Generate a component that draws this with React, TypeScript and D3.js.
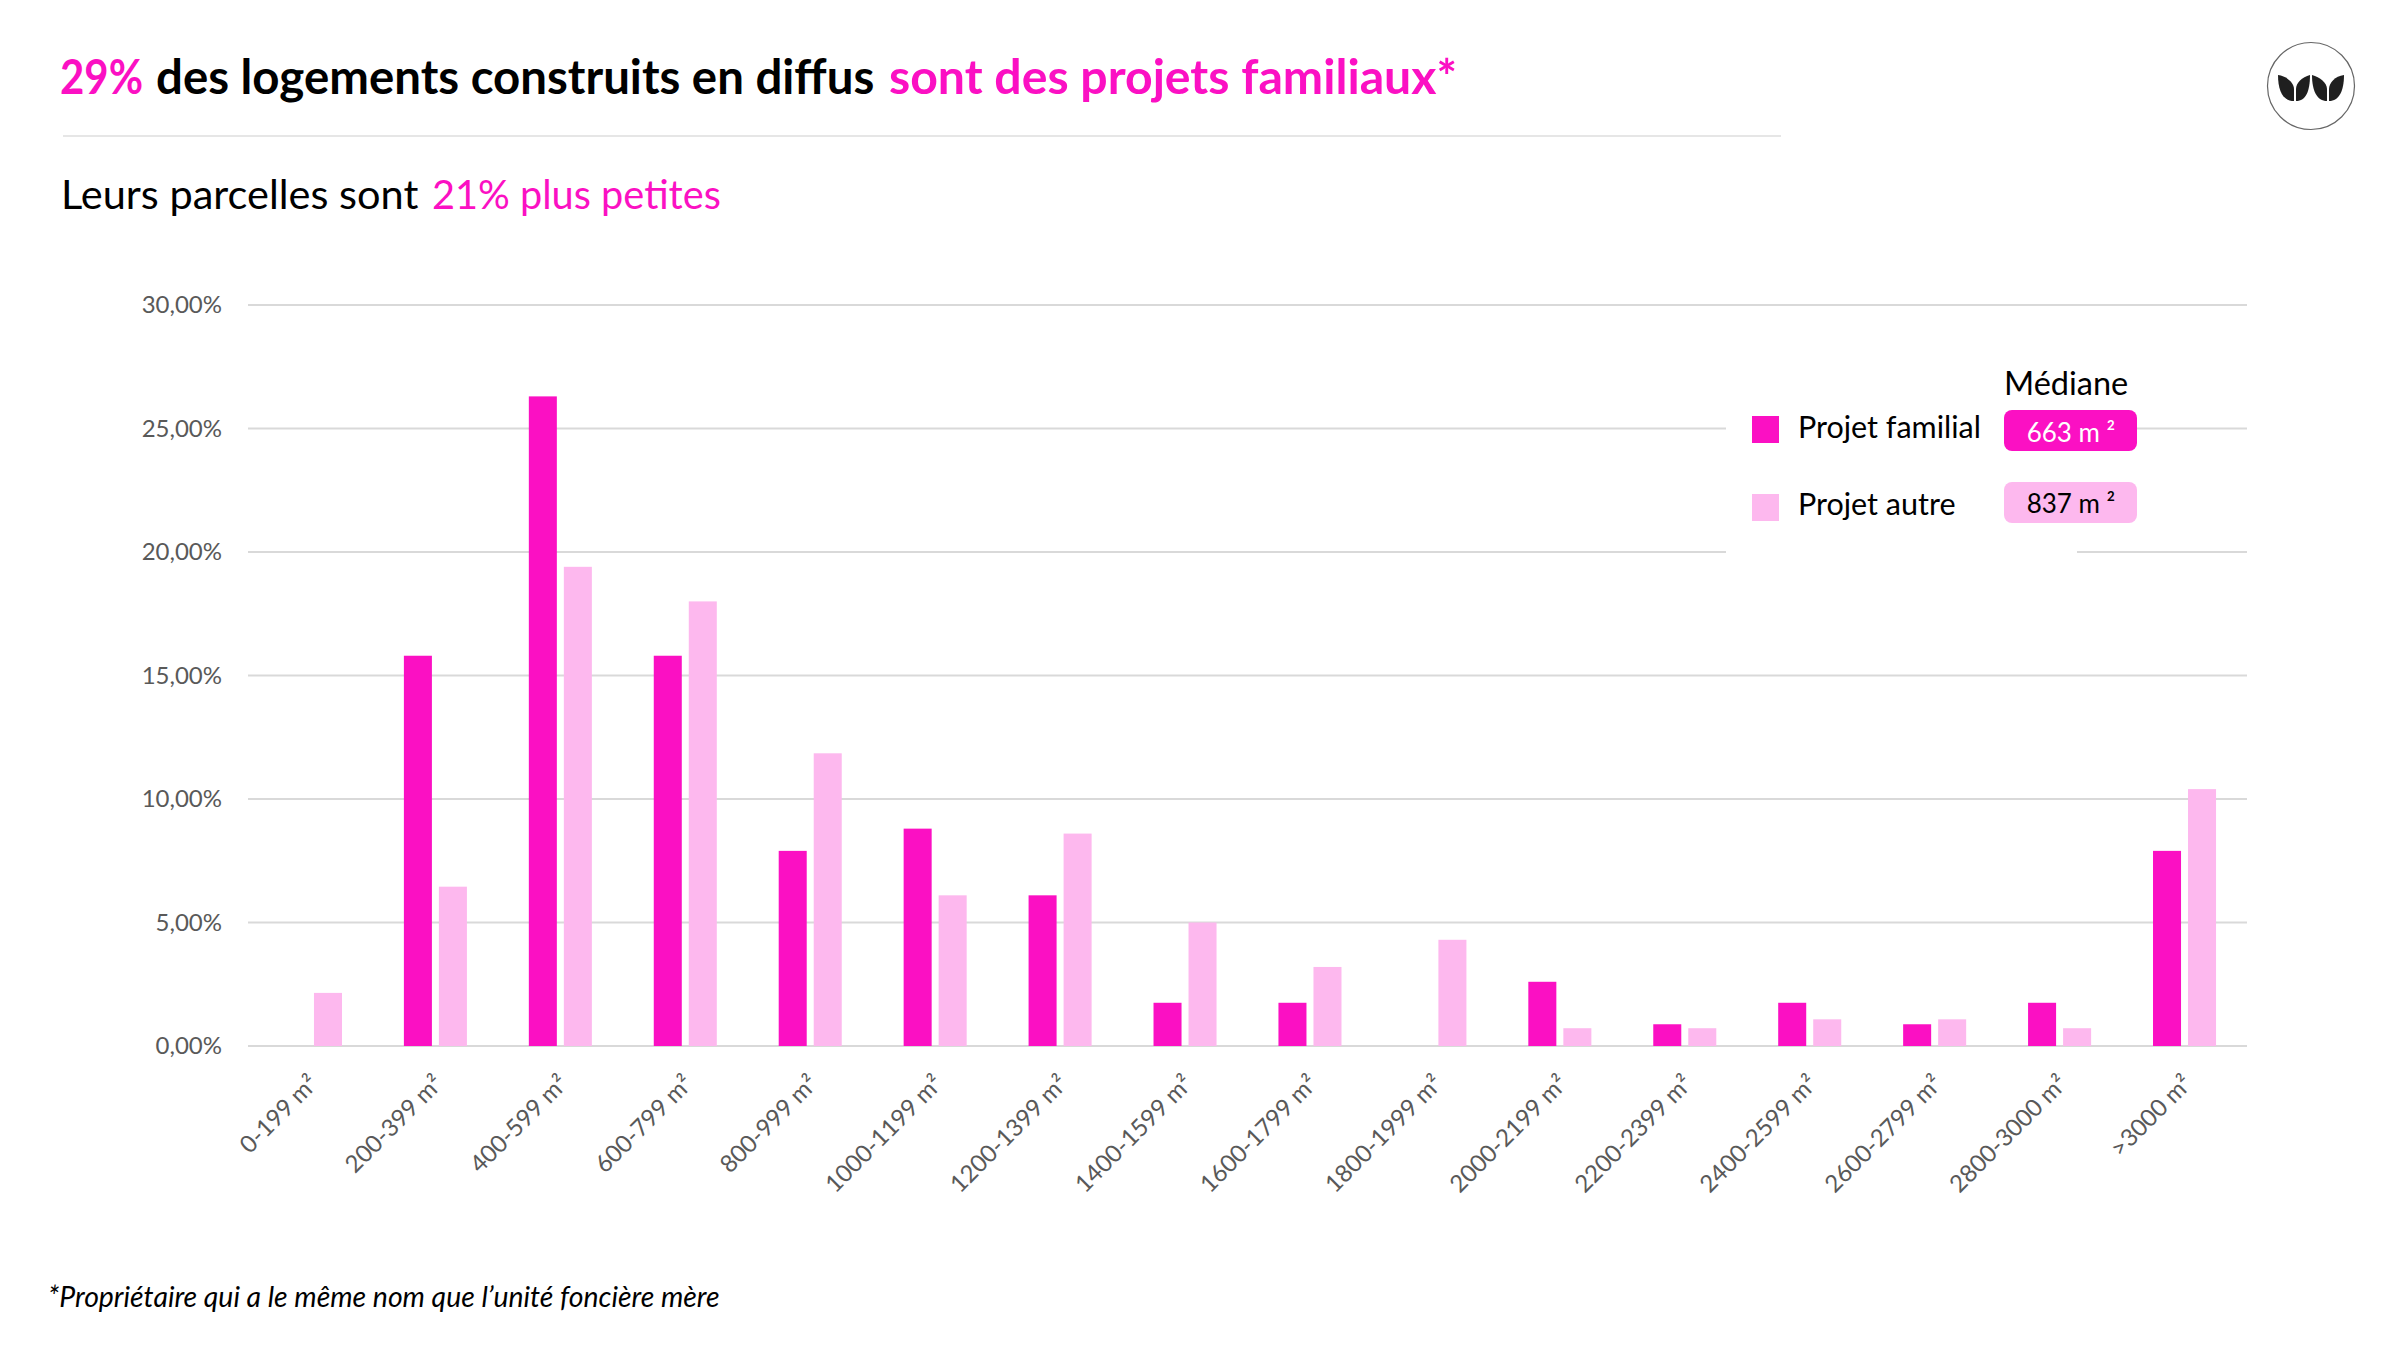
import React, { useEffect, useRef } from 'react';
import * as d3 from 'd3';

const categories = ['0-199 m²', '200-399 m²', '400-599 m²', '600-799 m²', '800-999 m²', '1000-1199 m²', '1200-1399 m²', '1400-1599 m²', '1600-1799 m²', '1800-1999 m²', '2000-2199 m²', '2200-2399 m²', '2400-2599 m²', '2600-2799 m²', '2800-3000 m²', '>3000 m²'];
const familial = [0, 15.8, 26.3, 15.8, 7.9, 8.8, 6.1, 1.75, 1.75, 0, 2.6, 0.88, 1.75, 0.88, 1.75, 7.9];
const autre = [2.15, 6.45, 19.4, 18.0, 11.85, 6.1, 8.6, 5.0, 3.2, 4.3, 0.72, 0.72, 1.08, 1.08, 0.72, 10.4];
const seriesNames = ['Projet familial', 'Projet autre'];
const medians = ['663 m ²', '837 m ²'];
const yTicks = [0, 5, 10, 15, 20, 25, 30];

const PINK = '#fb10c3';
const LIGHT = '#fdb8ee';
const FONT = 'Lato, sans-serif';

const App: React.FC = () => {
  const ref = useRef<SVGSVGElement | null>(null);

  useEffect(() => {
    const svg = d3.select(ref.current);
    svg.selectAll('*').remove();

    const x = d3.scaleBand().domain(categories).range([248, 2247]);
    const x1 = d3.scaleBand().domain(seriesNames).range([0, x.bandwidth()]).paddingInner(0.2).paddingOuter(0.884);
    const y = d3.scaleLinear().domain([0, 30]).range([1046, 305]);

    // title
    const title = svg.append('g').attr('font-family', FONT).attr('font-weight', 700).attr('font-size', 47.4);
    title.append('text').attr('x', 60).attr('y', 94).attr('fill', PINK)
      .attr('textLength', 83).attr('lengthAdjust', 'spacingAndGlyphs').text('29%');
    title.append('text').attr('x', 156).attr('y', 94).attr('fill', '#000').text('des logements construits en diffus');
    title.append('text').attr('x', 889).attr('y', 94).attr('fill', PINK).attr('font-size', 48.2).text('sont des projets familiaux*');

    svg.append('line').attr('x1', 63).attr('x2', 1781).attr('y1', 136).attr('y2', 136)
      .attr('stroke', '#e6e6e6').attr('stroke-width', 2);

    const sub = svg.append('g').attr('font-family', FONT);
    sub.append('text').attr('x', 61).attr('y', 209).attr('font-size', 41.5).attr('fill', '#000').text('Leurs parcelles sont');
    sub.append('text').attr('x', 432).attr('y', 209).attr('font-size', 39.7).attr('fill', PINK).text('21% plus petites');

    // y axis and grid
    const yAxis = svg.append('g').attr('transform', 'translate(248,0)')
      .call(d3.axisLeft(y).tickValues(yTicks).tickSize(0).tickPadding(26)
        .tickFormat(d => `${(d as number).toFixed(2).replace('.', ',')}%`));
    yAxis.select('.domain').remove();
    yAxis.selectAll('text').attr('font-family', FONT).attr('font-size', 24).attr('fill', '#595959');

    svg.append('g').selectAll('line').data(yTicks).enter().append('line')
      .attr('x1', 248).attr('x2', 2247)
      .attr('y1', d => y(d)).attr('y2', d => y(d))
      .attr('stroke', '#d9d9d9').attr('stroke-width', 2);

    // bars
    [familial, autre].forEach((values, s) => {
      svg.append('g').selectAll('rect').data(values).enter().append('rect')
        .attr('x', (_, i) => (x(categories[i]) || 0) + (x1(seriesNames[s]) || 0))
        .attr('y', d => y(d))
        .attr('width', x1.bandwidth())
        .attr('height', d => y(0) - y(d))
        .attr('fill', s === 0 ? PINK : LIGHT);
    });

    // x labels
    const xAxis = svg.append('g').attr('transform', 'translate(0,1046)')
      .call(d3.axisBottom(x).tickSize(0).tickPadding(0));
    xAxis.select('.domain').remove();
    xAxis.selectAll('text')
      .attr('font-family', FONT).attr('font-size', 24).attr('fill', '#595959')
      .attr('text-anchor', 'end')
      .attr('dy', 0).attr('y', 0)
      .attr('transform', 'translate(9,39) rotate(-45)');

    // legend
    svg.append('rect').attr('x', 1726).attr('y', 400).attr('width', 351).attr('height', 160).attr('fill', '#fff');

    const leg = svg.append('g').attr('font-family', FONT);
    leg.append('text').attr('x', 2004).attr('y', 395).attr('font-size', 32.5).attr('fill', '#000').text('Médiane');
    seriesNames.forEach((name, i) => {
      leg.append('rect').attr('x', 1752).attr('y', [416, 494][i]).attr('width', 27).attr('height', 27)
        .attr('fill', i === 0 ? PINK : LIGHT);
      leg.append('text').attr('x', 1798).attr('y', [438, 515][i]).attr('font-size', 30.5).attr('fill', '#000').text(name);
      leg.append('rect').attr('x', 2004).attr('y', [410, 482][i]).attr('width', 133).attr('height', 41).attr('rx', 8)
        .attr('fill', i === 0 ? PINK : LIGHT);
      leg.append('text').attr('x', 2071).attr('y', [442, 513][i]).attr('text-anchor', 'middle').attr('font-size', 26)
        .attr('fill', i === 0 ? '#fff' : '#000').text(medians[i]);
    });

    // logo
    const logo = svg.append('g').attr('transform', 'translate(2311,86)');
    logo.append('ellipse').attr('rx', 43.5).attr('ry', 43.5).attr('fill', '#fff').attr('stroke', '#666').attr('stroke-width', 1.2);
    const leaves = ['M-33,-11 C-24,-10 -17,-3 -17,3 L-17,15 C-28,15 -33,5 -33,-11 Z',
      'M-1,-11 C-9,-9 -15,-3 -15,3 L-15,15 C-5,15 -1,5 -1,-11 Z',
      'M1,-11 C9,-9 16,-3 16,3 L16,15 C6,15 1,5 1,-11 Z',
      'M33,-11 C24,-10 18,-3 18,3 L18,15 C28,15 33,5 33,-11 Z'];
    logo.selectAll('path').data(leaves).enter().append('path').attr('d', d => d).attr('fill', '#1f1f1f');

    // footnote
    svg.append('text').attr('x', 48).attr('y', 1307)
      .attr('font-family', FONT).attr('font-size', 28.4).attr('font-style', 'italic').attr('fill', '#000')
      .text('*Propriétaire qui a le même nom que l’unité foncière mère');
  }, []);

  return <svg ref={ref} width={2400} height={1350} style={{ position: 'absolute', left: 0, top: 0, background: '#fff' }} />;
};

export default App;
